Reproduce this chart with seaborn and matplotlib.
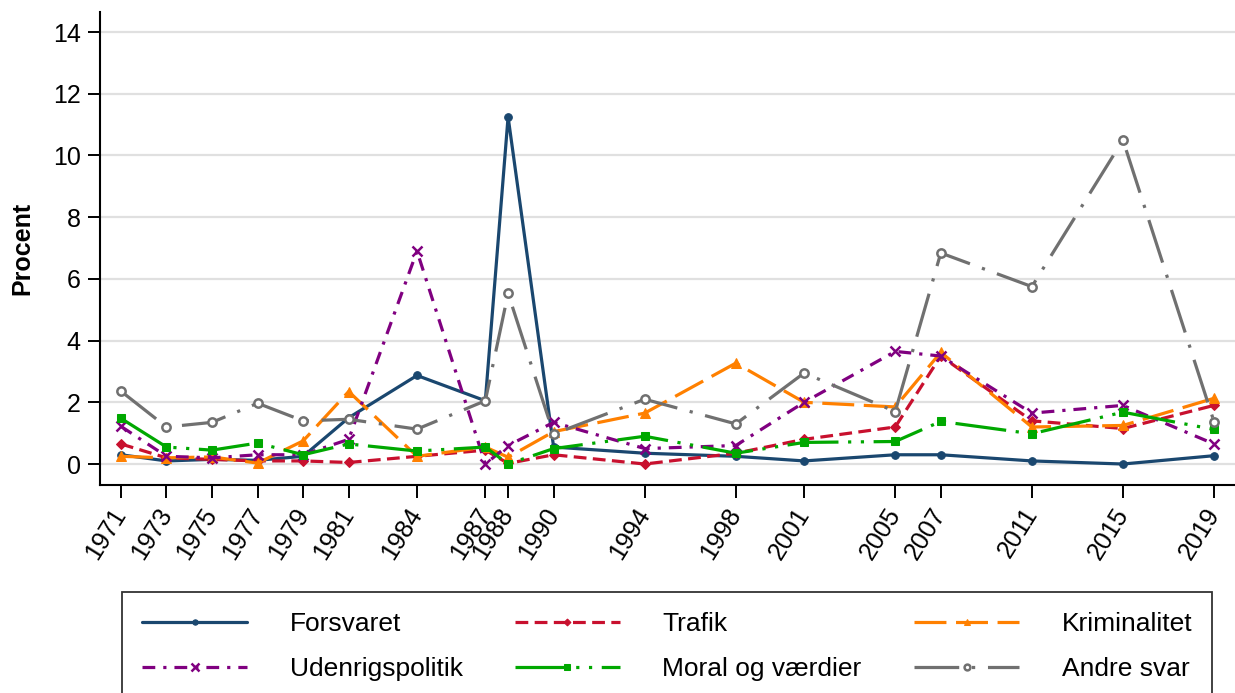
import matplotlib
matplotlib.use('Agg')
import matplotlib.pyplot as plt
import pandas as pd
import seaborn as sns

# Data (percent)
years = [1971, 1973, 1975, 1977, 1979, 1981, 1984, 1987, 1988, 1990,
         1994, 1998, 2001, 2005, 2007, 2011, 2015, 2019]

forsvaret = [0.30, 0.10, 0.15, 0.12, 0.25, 1.50, 2.87, 2.05, 11.25, 0.55,
             0.35, 0.25, 0.10, 0.30, 0.30, 0.10, 0.00, 0.27]
trafik = [0.65, 0.20, 0.15, 0.10, 0.10, 0.05, 0.25, 0.45, 0.02, 0.30,
          0.00, 0.35, 0.80, 1.20, 3.50, 1.40, 1.15, 1.90]
kriminalitet = [0.25, 0.20, 0.23, 0.03, 0.75, 2.35, 0.25, 0.55, 0.22, 1.05,
                1.65, 3.27, 2.00, 1.85, 3.62, 1.20, 1.25, 2.13]
udenrigspolitik = [1.22, 0.25, 0.20, 0.30, 0.30, 0.80, 6.90, 0.00, 0.60, 1.35,
                   0.50, 0.60, 2.00, 3.65, 3.50, 1.65, 1.90, 0.65]
moral = [1.48, 0.55, 0.45, 0.68, 0.30, 0.65, 0.42, 0.55, 0.00, 0.50,
         0.90, 0.35, 0.70, 0.73, 1.38, 0.98, 1.68, 1.12]
andre_svar = [2.36, 1.20, 1.35, 1.97, 1.40, 1.45, 1.13, 2.05, 5.53, 0.97,
              2.10, 1.30, 2.95, 1.70, 6.84, 5.75, 10.50, 1.37]

labels = ['Forsvaret', 'Trafik', 'Kriminalitet',
          'Udenrigspolitik', 'Moral og værdier', 'Andre svar']
series = [forsvaret, trafik, kriminalitet, udenrigspolitik, moral, andre_svar]

df = pd.DataFrame({'year': years})
for lab, vals in zip(labels, series):
    df[lab] = vals

# styles: colour, marker, linestyle, marker size, hollow marker
styles = {
    'Forsvaret': ('#1a476f', 'o', '-', 5.5, False),
    'Trafik': ('#c8102e', 'D', (0, (4, 2)), 5.0, False),
    'Kriminalitet': ('#ff8000', '^', (0, (10, 3)), 7.0, False),
    'Udenrigspolitik': ('#800080', 'x', (0, (4, 2.5, 1, 2.5)), 7.5, False),
    'Moral og værdier': ('#00a800', 's', (0, (16, 3, 1, 3, 1, 3)), 6.0, False),
    'Andre svar': ('#707070', 'o', (0, (14, 4, 1, 4)), 6.0, True),
}

sns.set_style('white')
plt.rcParams['font.family'] = ['Liberation Sans', 'DejaVu Sans']
plt.rcParams['text.color'] = 'black'
plt.rcParams['xtick.color'] = 'black'
plt.rcParams['ytick.color'] = 'black'
plt.rcParams['axes.labelcolor'] = 'black'

fig = plt.figure(figsize=(12.35, 6.93), dpi=100)
ax = fig.add_axes([100 / 1235, 1 - 485 / 693, 1 - 100 / 1235, (485 - 12) / 693])

for lab in labels:
    color, marker, ls, ms, hollow = styles[lab]
    kw = dict(color=color, marker=marker, linestyle=ls, linewidth=2.3,
              markersize=ms, markeredgecolor=color, label=lab)
    if hollow:
        kw['markerfacecolor'] = 'white'
        kw['markeredgewidth'] = 1.8
    elif marker == 'x':
        kw['markeredgewidth'] = 1.8
    sns.lineplot(data=df, x='year', y=lab, ax=ax, **kw)

if ax.get_legend() is not None:
    ax.get_legend().remove()

ax.set_xlim(1970.08, 2019.92)
ax.set_ylim(-0.68, 14.65)
ax.set_xticks(years)
ax.set_xticklabels([str(y) for y in years], rotation=58, ha='right', va='center',
                   rotation_mode='anchor', fontsize=18)
ax.set_yticks(range(0, 15, 2))
ax.tick_params(axis='y', labelsize=18, length=9, width=1.4, direction='out',
               left=True, pad=5)
ax.tick_params(axis='x', length=9, width=1.4, direction='out', bottom=True, pad=9)
ax.yaxis.grid(True, color='#e0e0e0', linewidth=1.6)
ax.set_axisbelow(True)

for side in ['top', 'right']:
    ax.spines[side].set_visible(False)
for side in ['left', 'bottom']:
    ax.spines[side].set_color('black')
    ax.spines[side].set_linewidth(1.5)

ax.set_xlabel('')
ax.set_ylabel('Procent', fontsize=18, fontweight='bold', labelpad=13)

# legend: 3 columns, row-major order like the reference
handles, labs = ax.get_legend_handles_labels()
hmap = dict(zip(labs, handles))
order = ['Forsvaret', 'Udenrigspolitik', 'Trafik',
         'Moral og værdier', 'Kriminalitet', 'Andre svar']
leg = fig.legend([hmap[o] for o in order], order, ncol=3,
                 loc='upper left', mode='expand',
                 bbox_to_anchor=(122 / 1235, 1 - 592 / 693 - 0.01, 1090 / 1235, 0.01),
                 borderaxespad=0, frameon=True, fancybox=False,
                 fontsize=19, handlelength=4.0, handletextpad=1.6,
                 labelspacing=0.8, borderpad=0.75)
leg.get_frame().set_edgecolor('black')
leg.get_frame().set_linewidth(1.3)
for h in leg.legend_handles:
    h.set_markersize(h.get_markersize() * 0.7)

fig.savefig('out.png', dpi=100)
